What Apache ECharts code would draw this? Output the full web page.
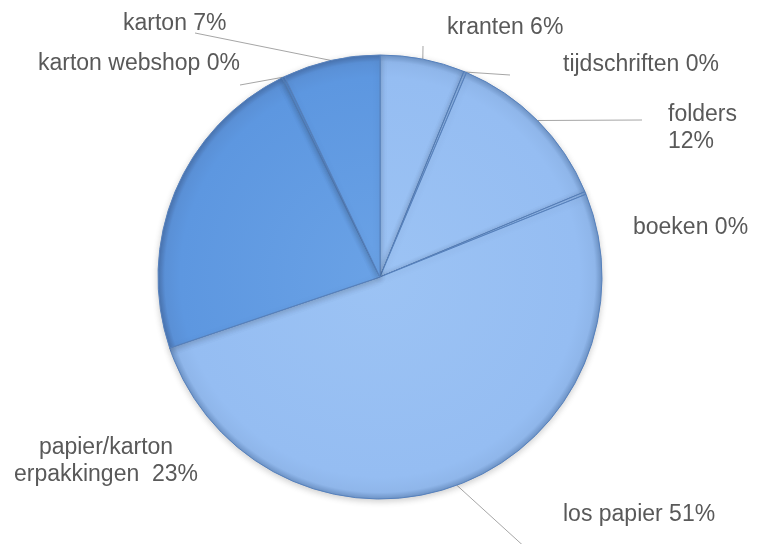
<!DOCTYPE html>
<html>
<head>
<meta charset="utf-8">
<script src="https://cdn.jsdelivr.net/npm/echarts@6/dist/echarts.min.js"></script>
<style>
html,body{margin:0;padding:0;background:#fff;}
#c{width:760px;height:544px;}
</style>
</head>
<body>
<div id="c"></div>
<script>
const categories = ['kranten', 'tijdschriften', 'folders', 'boeken', 'los papier', 'papier/karton\nerpakkingen', 'karton webshop', 'karton'];
const values = [6.2, 0.2, 12.4, 0.2, 51.1, 23.0, 0.2, 7.1];
const separators = [' ', ' ', '\n', ' ', ' ', '  ', ' ', ' '];
const shades = ['light', 'light', 'light', 'light', 'light', 'dark', 'dark', 'dark'];

const CX = 380, CY = 277, R = 222;
const palette = {
  light: ['#9cc3f4', '#95bdf2', '#8fb6ea', '#6f95c8'],
  dark:  ['#6aa2e6', '#5d97e0', '#5a90d6', '#4a74b0']
};
function fill(kind) {
  const p = palette[kind];
  return new echarts.graphic.RadialGradient(CX, CY, R, [
    {offset: 0, color: p[0]},
    {offset: 0.9, color: p[1]},
    {offset: 0.97, color: p[2]},
    {offset: 1, color: p[3]}
  ], true);
}

// label placement (text anchors and line ends), by slice index
const labelPlace = [
  {x: 447, y: 28, align: 'left', end: [423, 46]},
  {x: 563, y: 65, align: 'left', end: [510, 75]},
  {x: 668, y: 128, align: 'left', end: [642, 120]},
  {x: 633, y: 228, align: 'left', end: null},
  {x: 563, y: 515, align: 'left', end: [528, 550]},
  {x: 106, y: 461, align: 'center', end: null},
  {x: 240, y: 64, align: 'right', end: [240, 85]},
  {x: 123, y: 24, align: 'left', end: [195, 33]}
];

const data = categories.map((n, i) => ({
  name: n,
  value: values[i],
  itemStyle: {color: fill(shades[i])},
  labelLine: {show: labelPlace[i].end !== null}
}));

const chart = echarts.init(document.getElementById('c'), null, {renderer: 'canvas'});
chart.setOption({
  animation: false,
  backgroundColor: '#ffffff',
  series: [{
    type: 'pie',
    center: [CX, CY],
    radius: [0, R],
    startAngle: 90,
    clockwise: true,
    minAngle: 0,
    avoidLabelOverlap: false,
    data: data,
    itemStyle: {
      borderColor: '#5681bd',
      borderWidth: 1,
      shadowBlur: 6,
      shadowColor: 'rgba(0,0,0,0.18)',
      shadowOffsetY: 2
    },
    label: {
      show: true,
      position: 'outside',
      fontFamily: 'Liberation Sans, Arial, sans-serif',
      fontSize: 23,
      lineHeight: 27,
      color: '#595959',
      formatter: p => p.name + separators[p.dataIndex] + Math.round(p.value) + '%'
    },
    labelLine: {
      show: true,
      length: 20,
      length2: 20,
      lineStyle: {color: '#a6a6a6', width: 1}
    },
    labelLayout: function (params) {
      const lp = labelPlace[params.dataIndex];
      const out = {x: lp.x, y: lp.y, align: lp.align, verticalAlign: 'middle'};
      if (lp.end && params.labelLinePoints) {
        out.labelLinePoints = [params.labelLinePoints[0], lp.end];
      }
      return out;
    }
  }]
});
</script>
</body>
</html>
